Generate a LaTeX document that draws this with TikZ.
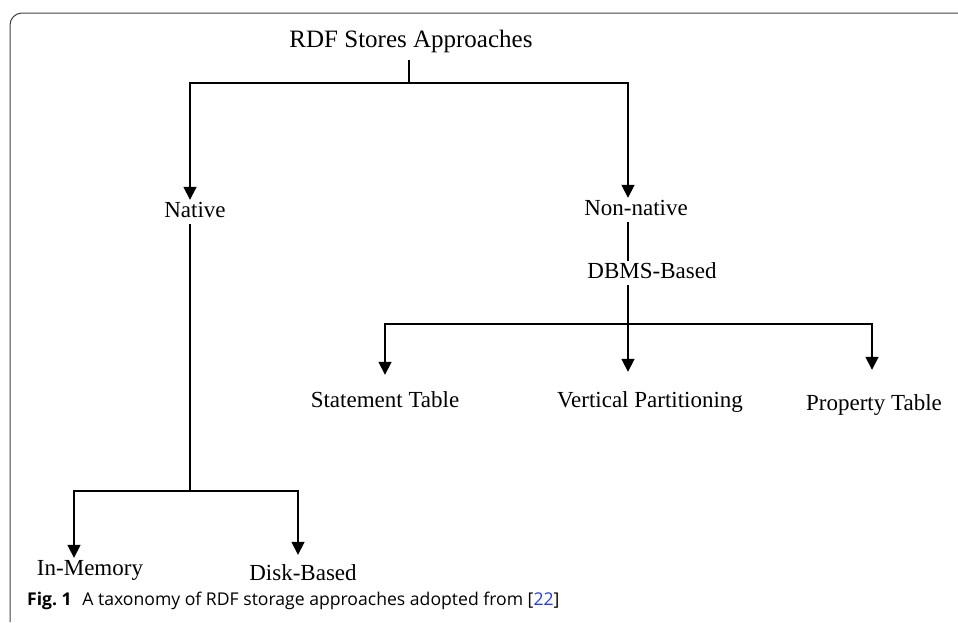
\documentclass[tikz,border=0pt]{standalone}
\usepackage{xcolor}
\usepackage{fontspec}
\setmainfont{Liberation Serif}
\newfontfamily\capfont{Open Sans}
\usepackage{tikz}
\usetikzlibrary{arrows.meta}
\definecolor{refblue}{RGB}{40,60,220}

\begin{document}
\begin{tikzpicture}[x=1pt,y=-1pt,>={Triangle[width=13pt,length=13pt]},
    lbl/.style={anchor=base,inner sep=2pt,text height=15pt,text depth=5pt,font=\fontsize{23}{26}\selectfont},
    link/.style={line width=1.7pt},
    frame/.style={draw=black!75,line width=1pt,rounded corners=12pt}]
        \useasboundingbox (0,0) rectangle (958,622);
        % 外框
        \draw [frame] (10,622) -- (10,13) -- (958,13);
        % 节点
        \node [lbl,font=\fontsize{25}{28}\selectfont] (rdf) at (411,47) {RDF Stores Approaches};
        \node [lbl] (native) at (195,217) {Native};
        \node [lbl] (nonnative) at (636,215) {Non-native};
        \node [lbl] (dbms) at (652,278) {DBMS-Based};
        \node [lbl] (stmt) at (385,407) {Statement Table};
        \node [lbl] (vert) at (650,407) {Vertical Partitioning};
        \node [lbl] (prop) at (874,410) {Property Table};
        \node [lbl] (inmem) at (90,575) {In-Memory};
        \node [lbl] (disk) at (303,580) {Disk-Based};
        % 分叉点
        \coordinate (j0) at (409,83);
        \coordinate (j1) at (190,491);
        \coordinate (j2) at (628,324);
        % 第一层
        \draw [link] ([yshift=-6pt]rdf.south -| j0) -- (j0);
        \draw [link,->] (j0) -| (native.north -| j1);
        \draw [link,->] (j0) -| (nonnative.north -| j2);
        % Native 分支
        \draw [link] (native.south -| j1) -- (j1);
        \draw [link,->] (j1) -| ([xshift=-16pt]inmem.north);
        \draw [link,->] (j1) -| ([xshift=-5pt,yshift=8pt]disk.north);
        % Non-native 分支
        \draw [link] (nonnative.south -| j2) -- (dbms.north -| j2);
        \draw [link,->] (dbms.south -| j2) -- ([xshift=-22pt,yshift=18pt]vert.north);
        \draw [link,->] (j2) -| ([yshift=15pt]stmt.north);
        \draw [link,->] (j2) -| ([xshift=-2pt,yshift=23pt]prop.north);
        % 图注
        \node [anchor=base west,inner sep=0pt,font=\capfont\fontsize{17.6}{20}\selectfont] (caption) at (27,605)
            {\textbf{Fig.~1}\hspace{0.6em}A taxonomy of RDF storage approaches adopted from [\textcolor{refblue}{22}]};
    \end{tikzpicture}
\end{document}
